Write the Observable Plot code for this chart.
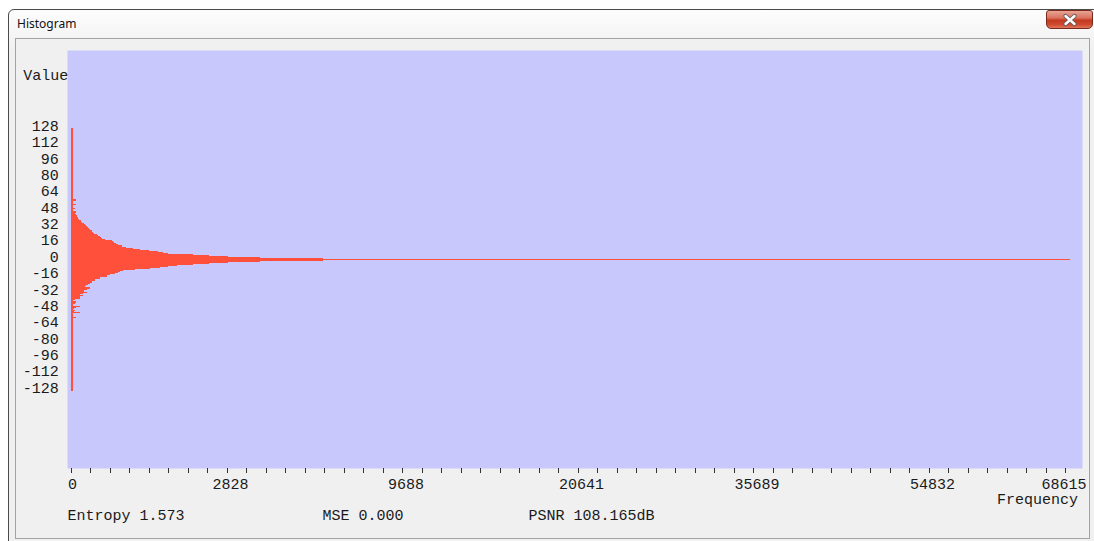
<!DOCTYPE html>
<html>
<head>
<meta charset="utf-8">
<script src="https://cdn.jsdelivr.net/npm/d3@7"></script>
<script src="https://cdn.jsdelivr.net/npm/@observablehq/plot@0.6"></script>
<style>
  html, body { margin: 0; padding: 0; background: #ffffff; }
  #win { position: relative; width: 1094px; height: 541px; overflow: hidden; }
  .frame { position: absolute; left: 8px; top: 9px; width: 1100px; height: 545px;
           border: 1px solid #4a4a4a; border-radius: 6px 6px 0 0; box-sizing: border-box;
           background: linear-gradient(#fdfdfd 0px, #f4f4f4 28px, #f0f0f0 40px); }
  .title { position: absolute; left: 17px; top: 16px; font: 12px/16px "Noto Sans", "DejaVu Sans", sans-serif; color: #111; }
  .close { position: absolute; left: 1046px; top: 10px; width: 47px; height: 19px; box-sizing: border-box;
           border: 1px solid #7a2a1c; border-radius: 3px 3px 5px 5px;
           background: linear-gradient(#e9a595 0%, #d9735f 40%, #c4391f 55%, #cf4a2f 80%, #e0775c 100%); }
  .close svg { position: absolute; left: 0; top: 0; }
  .client { position: absolute; left: 15px; top: 38px; width: 1075px; height: 501px; box-sizing: border-box;
            border: 1px solid #a3a3a3; background: #f0f0f0; }
  .layer { position: absolute; left: 0; top: 0; width: 1094px; height: 541px; }
  .layer svg { position: absolute; left: 0; top: 0; max-width: none; }
  .stat { position: absolute; top: 509px; font: 15px/15px "Liberation Mono", "Courier New", monospace; color: #1a1a1a; white-space: pre; }
</style>
</head>
<body>
<div id="win">
  <div class="frame"></div>
  <div class="title">Histogram</div>
  <div class="close">
    <svg width="47" height="19" viewBox="0 0 47 19">
      <path d="M18.5 5 L27.5 13 M27.5 5 L18.5 13" stroke="#5a5a5a" stroke-width="4.2" stroke-linecap="round"/>
      <path d="M18.5 5 L27.5 13 M27.5 5 L18.5 13" stroke="#ffffff" stroke-width="2.4" stroke-linecap="round"/>
    </svg>
  </div>
  <div class="client"></div>
  <div id="chart" class="layer"></div>
  <div id="axis" class="layer"></div>
  <div class="stat" style="left:67.5px">Entropy 1.573</div>
  <div class="stat" style="left:322.5px">MSE 0.000</div>
  <div class="stat" style="left:528.5px">PSNR 108.165dB</div>
</div>
<script>
// Value bins (categories), from 128 at the top down to -128
const values = d3.range(128, -129, -1);

// Frequency of each value (same order as `values`)
const counts = [
  // 128 .. 59
  8,8,8,8,8,8,8,8,8,8, 8,8,8,8,8,8,8,8,8,8,
  8,8,8,8,8,8,8,8,8,8, 8,8,8,8,8,8,8,8,8,8,
  8,8,8,8,8,8,8,8,8,8, 8,8,8,8,8,8,8,8,8,8,
  8,8,8,8,8,8,8,8,8,8,
  // 58 .. 1
  24,8,8,8,24,8,8,9,20,11,
  11,24,24,20,24,27,31,33,36,42,
  49,53,57,66,75,80,86,95,103,110,
  120,125,129,140,157,170,183,190,198,230,
  288,300,311,330,352,390,439,520,614,740,
  874,950,1037,1501,1839,2283,3139,5207,
  // 0
  68615,
  // -1 .. -57
  5207,3139,2283,1839,1501,1189,1037,906,753,548,
  406,373,352,321,272,244,241,183,183,144,
  144,122,120,108,94,81,75,108,108,88,
  69,88,63,45,63,45,45,45,19,9,
  24,24,19,9,8,45,24,14,8,19,
  14,45,9,8,8,8,24,
  // -58 .. -128
  8,8,8,8,8,8,8,8,8,8, 8,8,8,8,8,8,8,8,8,8,
  8,8,8,8,8,8,8,8,8,8, 8,8,8,8,8,8,8,8,8,8,
  8,8,8,8,8,8,8,8,8,8, 8,8,8,8,8,8,8,8,8,8,
  8,8,8,8,8,8,8,8,8,8, 8
];

// Axis tick labels
const yTicks = [128, 112, 96, 80, 64, 48, 32, 16, 0, -16, -32, -48, -64, -80, -96, -112, -128];
const xTickIndex = d3.range(0, 52);             // evenly spaced minor ticks
const xLabelAt = [0, 9, 18, 27, 36, 45, 51];    // ticks that carry a label
const xTickLabels = ["0", "2828", "9688", "20641", "35689", "54832", "68615"];
const maxFrequency = 68615;
const sqrtOffset = 77;   // the frequency axis is a square-root scale with a small offset

const data = values.map((v, i) => ({value: v, count: counts[i]}));
const xLabels = xLabelAt.map((t, i) => ({tick: t, label: xTickLabels[i]}));

const fontStyle = "background:transparent;font-family:'Liberation Mono','Courier New',monospace;font-size:15px;color:#1a1a1a;max-width:none;";

const chart = Plot.plot({
  width: 1094, height: 541,
  marginLeft: 67, marginRight: 12, marginTop: 50, marginBottom: 73,
  style: fontStyle,
  x: {type: "sqrt", transform: f => f + sqrtOffset, domain: [sqrtOffset, maxFrequency + sqrtOffset], range: [71, 1070], axis: null},
  y: {domain: [-128.5, 128.5], range: [390.7, 127.9], axis: null},
  marks: [
    Plot.frame({fill: "#c8c8fd", stroke: "none"}),
    Plot.rect(data, {x1: 0, x2: "count", y1: d => d.value - 0.5, y2: d => d.value + 0.5,
                     fill: "#ff503c", shapeRendering: "crispEdges"}),
    Plot.text(yTicks, {y: d => d, text: d => String(d), frameAnchor: "left", textAnchor: "end",
                       lineAnchor: "middle", dx: -8.7, dy: -2.8, fill: "#1a1a1a"}),
    Plot.text(["Value"], {text: d => d, frameAnchor: "top-left", textAnchor: "end", lineAnchor: "middle",
                          dx: 0.7, dy: 24.2, fill: "#1a1a1a"})
  ]
});
document.getElementById("chart").appendChild(chart);

const axis = Plot.plot({
  width: 1094, height: 541,
  marginLeft: 67, marginRight: 12, marginTop: 468, marginBottom: 68,
  style: fontStyle,
  x: {domain: [0, 51], range: [70.5, 1065], axis: null},
  marks: [
    Plot.ruleX(xTickIndex, {x: d => d, stroke: "#333", strokeWidth: 1, shapeRendering: "crispEdges"}),
    Plot.text(xLabels.slice(0, 1), {x: "tick", text: "label", frameAnchor: "bottom", textAnchor: "start",
                                    lineAnchor: "middle", dx: -3, dy: 10.5, fill: "#1a1a1a"}),
    Plot.text(xLabels.slice(1, -1), {x: "tick", text: "label", frameAnchor: "bottom", textAnchor: "middle",
                                     lineAnchor: "middle", dx: -16, dy: 10.5, fill: "#1a1a1a"}),
    Plot.text(xLabels.slice(-1), {x: "tick", text: "label", frameAnchor: "bottom", textAnchor: "end",
                                  lineAnchor: "middle", dx: 21, dy: 10.5, fill: "#1a1a1a"}),
    Plot.text(["Frequency"], {text: d => d, frameAnchor: "bottom-right", textAnchor: "end",
                              lineAnchor: "middle", dx: -4.5, dy: 25.5, fill: "#1a1a1a"})
  ]
});
document.getElementById("axis").appendChild(axis);
</script>
</body>
</html>
